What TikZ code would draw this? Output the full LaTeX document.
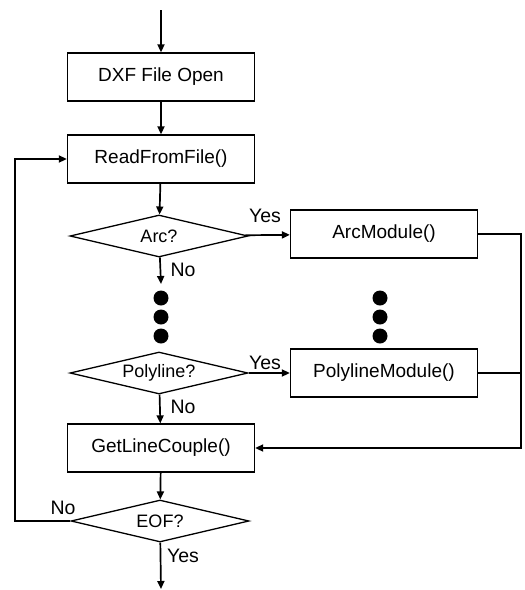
\documentclass[tikz,border=0pt]{standalone}
\usepackage{fontspec}
\setmainfont{Liberation Sans}
\usetikzlibrary{shapes.geometric,arrows.meta}

\begin{document}
\begin{tikzpicture}[x=1pt,y=-1pt,
  caja/.style={draw,line width=1.3pt,minimum width=187pt,minimum height=48pt,inner sep=0pt,font=\fontsize{19}{22}\selectfont},
  rombo/.style={draw,diamond,aspect=4.2,line width=1.3pt,minimum width=178pt,minimum height=42pt,inner sep=0pt,font=\fontsize{18}{20}\selectfont},
  flecha/.style={line width=1.7pt,-{Triangle[length=8pt,width=7pt]}},
  linea/.style={line width=1.7pt},
  etiq/.style={font=\fontsize{19.5}{22}\selectfont},
  punto/.style={circle,fill,inner sep=0pt,minimum size=15pt}]

    \useasboundingbox (0,0) rectangle (525,590);

    % Cajas
    \node[caja] (abrir) at (161,77) {DXF File Open};
    \node[caja] (leer) at (161,159) {ReadFromFile()};
    \node[caja] (arcmod) at (384,234) {ArcModule()};
    \node[caja] (polymod) at (384,373) {PolylineModule()};
    \node[caja] (getline) at (161,448) {GetLineCouple()};

    % Rombos
    \node[rombo] (arc) at (159,236) {Arc?};
    \node[rombo] (poly) at (159,373) {Polyline?};
    \node[rombo] (eof) at (160,521) {EOF?};

    % Puntos
    \foreach \y in {298,317,336} {
        \node[punto] (pi\y) at (161,\y) {};
        \node[punto] (pd\y) at (380,\y) {};
    }

    % Extremos
    \coordinate (inicio) at (161,10);
    \coordinate (fin) at (161,589);
    \coordinate (arcno) at (161,284);
    \coordinate (der) at (521,448);
    \coordinate (izq) at (15,521);

    % Flechas
    \draw[flecha] (inicio) -- (abrir);
    \draw[flecha] (abrir) -- (leer);
    \draw[flecha] (leer) -- (arc);
    \draw[flecha] (arc) -- (arcno);
    \draw[flecha] (arc) -- (arcmod);
    \draw[flecha] (poly) -- (polymod);
    \draw[flecha] (poly) -- (getline);
    \draw[flecha] (getline) -- (eof);
    \draw[flecha] (eof) -- (fin);
    \draw[flecha] (arcmod.east) -- (arcmod.east -| der) -- (der) -- (getline.east);
    \draw[linea] (polymod.east) -- (polymod.east -| der);
    \draw[flecha] (eof.west) -- (izq) |- (leer.west);

    % Etiquetas
    \node[etiq] (si1) at (265,216) {Yes};
    \node[etiq] (no1) at (183,270) {No};
    \node[etiq] (si2) at (265,363) {Yes};
    \node[etiq] (no2) at (183,407) {No};
    \node[etiq] (no3) at (63,508) {No};
    \node[etiq] (si3) at (183,556) {Yes};
\end{tikzpicture}
\end{document}
